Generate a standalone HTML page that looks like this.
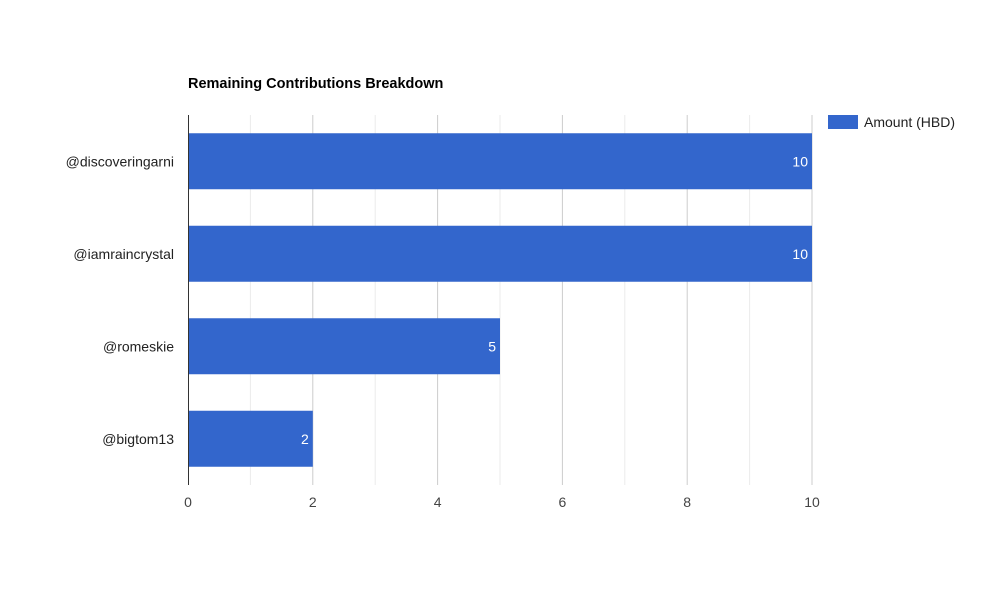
<!DOCTYPE html>
<html><head><meta charset="utf-8"><style>
body{margin:0;background:#fff;font-family:"Liberation Sans",Arial,sans-serif}
</style></head><body>
<svg width="1000" height="600" style="display:block">
<rect width="1000" height="600" fill="#fff"/>
<text x="188" y="88" font-size="14.5" font-weight="bold" fill="#000">Remaining Contributions Breakdown</text>
<g id="grid"></g><g id="bars"></g><g id="axis"></g>
<g>
<rect x="828" y="115" width="30" height="14" fill="#3366cc"/>
<text x="864" y="127" font-size="14" fill="#222">Amount (HBD)</text>
</g>
</svg>
<script>
const categories=["@discoveringarni","@iamraincrystal","@romeskie","@bigtom13"];
const values=[10,10,5,2];
const ticks=[0,2,4,6,8,10];
(function(){
const NS="http://www.w3.org/2000/svg";
const x0=188,x1=812,plotTop=115,plotBot=485,maxV=10;
const xs=v=>x0+(x1-x0)*v/maxV;
const rowH=(plotBot-plotTop)/categories.length,barH=56;
function mk(t,a,p){const e=document.createElementNS(NS,t);for(const k in a)e.setAttribute(k,a[k]);p.appendChild(e);return e;}
const grid=document.getElementById('grid'),bars=document.getElementById('bars'),axis=document.getElementById('axis');
for(let v=1;v<=maxV;v++){
const l=mk('line',{x1:xs(v),x2:xs(v),y1:plotTop,y2:plotBot,stroke:v%2?'#ebebeb':'#cccccc','stroke-width':1},grid);


}
ticks.forEach(t=>{
const e=mk('text',{x:xs(t),y:507,'font-size':14,fill:'#444','text-anchor':'middle'},axis);e.textContent=t;


});
categories.forEach((c,i)=>{
const cy=plotTop+rowH*i+rowH/2;
const r=mk('rect',{x:x0,y:cy-barH/2,width:xs(values[i])-x0,height:barH,fill:'#3366cc'},bars);


const v=mk('text',{x:xs(values[i])-4,y:cy+5,'font-size':14,fill:'#fff','text-anchor':'end'},bars);v.textContent=values[i];


const lb=mk('text',{x:174,y:cy+5,'font-size':14,fill:'#222','text-anchor':'end'},axis);lb.textContent=c;


});
const ax=mk('line',{x1:x0+0.5,x2:x0+0.5,y1:plotTop,y2:plotBot,stroke:'#333','stroke-width':1},axis);


})();
</script>
</body></html>
